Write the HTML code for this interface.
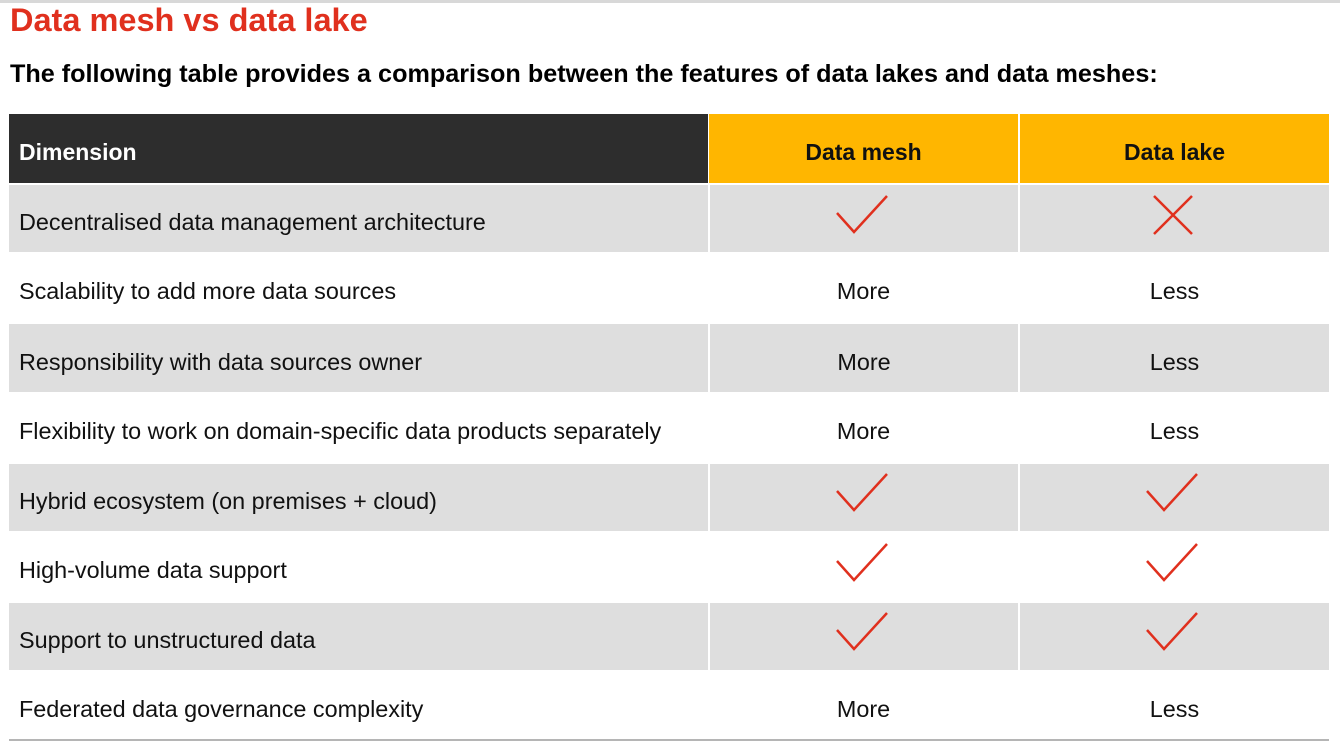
<!DOCTYPE html>
<html><head><style>
body{margin:0;width:1340px;height:754px;background:#fff;font-family:"Liberation Sans",Arial,sans-serif;position:relative;overflow:hidden}
.topline{position:absolute;left:0;top:0;width:1340px;height:3px;background:#d8d8d8}
h1{position:absolute;left:10px;top:2px;margin:0;font-size:32.5px;font-weight:bold;color:#e0301e}
h2{position:absolute;left:10px;top:60px;margin:0;font-size:25.2px;font-weight:bold;color:#000;white-space:nowrap}
.c{position:absolute;box-sizing:border-box;display:flex;align-items:center;font-size:23.4px;color:#111;padding-top:8px;white-space:nowrap}
.g{background:#dedede}
.l{padding-left:10px}
.m{justify-content:center}
svg{position:absolute}
</style></head><body>
<div class="topline"></div>
<h1>Data mesh vs data lake</h1>
<h2>The following table provides a comparison between the features of data lakes and data meshes:</h2>

<div class="c l" style="left:9px;top:114px;width:699px;height:69px;background:#2d2d2d;color:#fff;font-weight:bold;font-size:23px">Dimension</div>
<div class="c m" style="left:709px;top:114px;width:309px;height:69px;background:#ffb600;font-weight:bold;font-size:23px">Data mesh</div>
<div class="c m" style="left:1020px;top:114px;width:309px;height:69px;background:#ffb600;font-weight:bold;font-size:23px">Data lake</div>

<div class="c l g" style="left:9px;top:185px;width:699px;height:67px">Decentralised data management architecture</div>
<div class="c g" style="left:710px;top:185px;width:308px;height:67px"></div>
<div class="c g" style="left:1020px;top:185px;width:309px;height:67px"></div>

<div class="c l" style="left:9px;top:252px;width:699px;height:70px">Scalability to add more data sources</div>
<div class="c m" style="left:709px;top:252px;width:309px;height:70px">More</div>
<div class="c m" style="left:1020px;top:252px;width:309px;height:70px">Less</div>

<div class="c l g" style="left:9px;top:324px;width:699px;height:68px">Responsibility with data sources owner</div>
<div class="c m g" style="left:710px;top:324px;width:308px;height:68px">More</div>
<div class="c m g" style="left:1020px;top:324px;width:309px;height:68px">Less</div>

<div class="c l" style="left:9px;top:392px;width:699px;height:70px">Flexibility to work on domain-specific data products separately</div>
<div class="c m" style="left:709px;top:392px;width:309px;height:70px">More</div>
<div class="c m" style="left:1020px;top:392px;width:309px;height:70px">Less</div>

<div class="c l g" style="left:9px;top:464px;width:699px;height:67px">Hybrid ecosystem (on premises + cloud)</div>
<div class="c g" style="left:710px;top:464px;width:308px;height:67px"></div>
<div class="c g" style="left:1020px;top:464px;width:309px;height:67px"></div>

<div class="c l" style="left:9px;top:531px;width:699px;height:70px">High-volume data support</div>

<div class="c l g" style="left:9px;top:603px;width:699px;height:67px">Support to unstructured data</div>
<div class="c g" style="left:710px;top:603px;width:308px;height:67px"></div>
<div class="c g" style="left:1020px;top:603px;width:309px;height:67px"></div>

<div class="c l" style="left:9px;top:670px;width:699px;height:70px">Federated data governance complexity</div>
<div class="c m" style="left:709px;top:670px;width:309px;height:70px">More</div>
<div class="c m" style="left:1020px;top:670px;width:309px;height:70px">Less</div>
<div style="position:absolute;left:9px;top:739px;width:1320px;height:2px;background:#b5b5b5"></div>

<svg width="1340" height="754" style="left:0;top:0" fill="none" stroke="#e0301e" stroke-width="2.5">
<path d="M837 213 L854 232 L887 196"/>
<path d="M1154 196 L1192 234 M1192 196 L1154 234"/>
<path d="M837 491 L854 510 L887 474"/>
<path d="M1147 491 L1164 510 L1197 474"/>
<path d="M837 561 L854 580 L887 544"/>
<path d="M1147 561 L1164 580 L1197 544"/>
<path d="M837 630 L854 649 L887 613"/>
<path d="M1147 630 L1164 649 L1197 613"/>
</svg>
</body></html>
